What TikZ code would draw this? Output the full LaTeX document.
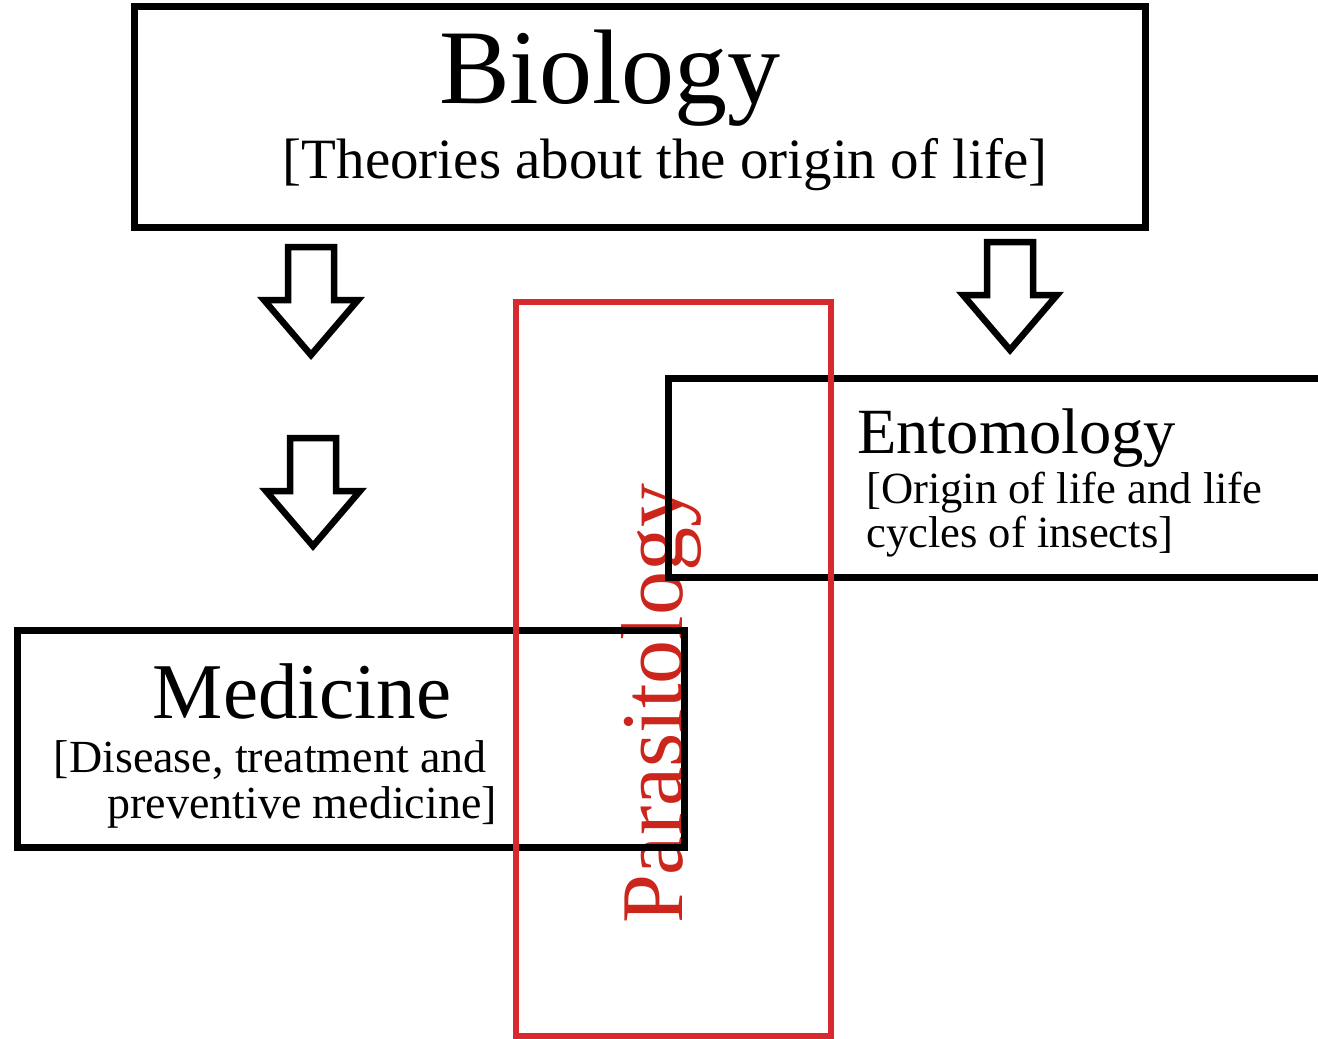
\documentclass[tikz,border=0pt]{standalone}
\usepackage{fontspec}
\setmainfont{Liberation Serif}
\definecolor{boxred}{RGB}{214,42,48}
\definecolor{textred}{RGB}{204,38,28}
\newcommand{\fsz}[1]{\fontsize{#1}{#1}\selectfont}

\begin{document}
\begin{tikzpicture}[x=1pt,y=-1pt,line join=miter,
	box/.style={line width=7pt},
	redbox/.style={draw=boxred,line width=6.5pt},
	lbl/.style={inner sep=0pt},
	blockarrow/.pic={\draw[line width=6.5pt] (-23,0) -- (23,0) -- (23,53) -- (47,53) -- (0,108) -- (-47,53) -- (-23,53) -- cycle;}]
	\clip (0,0) rectangle (1318,1039);
	% rotated label first, boxes go over it
	\node[lbl,anchor=base,rotate=90,text=textred] (para) at (682,704) {\fsz{88}Parasitology};
	% Biology
	\draw[box] (134,6) rectangle (1145,227);
	\node[lbl,anchor=base] (bio) at (610,103) {\fsz{106}Biology};
	\node[lbl,anchor=base] (biosub) at (665,178) {\fsz{57}[Theories about the origin of life]};
	% arrows
	\pic at (311,247) {blockarrow};
	\pic at (313,438) {blockarrow};
	\pic at (1010,242) {blockarrow};
	% Entomology
	\draw[box] (668,378) rectangle (1340,577);
	\node[lbl,anchor=base west] (ento) at (857,453) {\fsz{64.5}Entomology};
	\node[lbl,anchor=base west] (entosubA) at (866,503) {\fsz{44.6}[Origin of life and life};
	\node[lbl,anchor=base west] (entosubB) at (866,547) {\fsz{44.6}cycles of insects]};
	% Medicine
	\draw[box] (17,630) rectangle (684,847);
	\node[lbl,anchor=base] (med) at (302,718) {\fsz{79}Medicine};
	\node[lbl,anchor=base east] (medsubA) at (487,772) {\fsz{46}[Disease, treatment and};
	\node[lbl,anchor=base east] (medsubB) at (497,818) {\fsz{46}preventive medicine]};
	% Parasitology frame
	\draw[redbox] (516,302) rectangle (831,1036);
\end{tikzpicture}
\end{document}
